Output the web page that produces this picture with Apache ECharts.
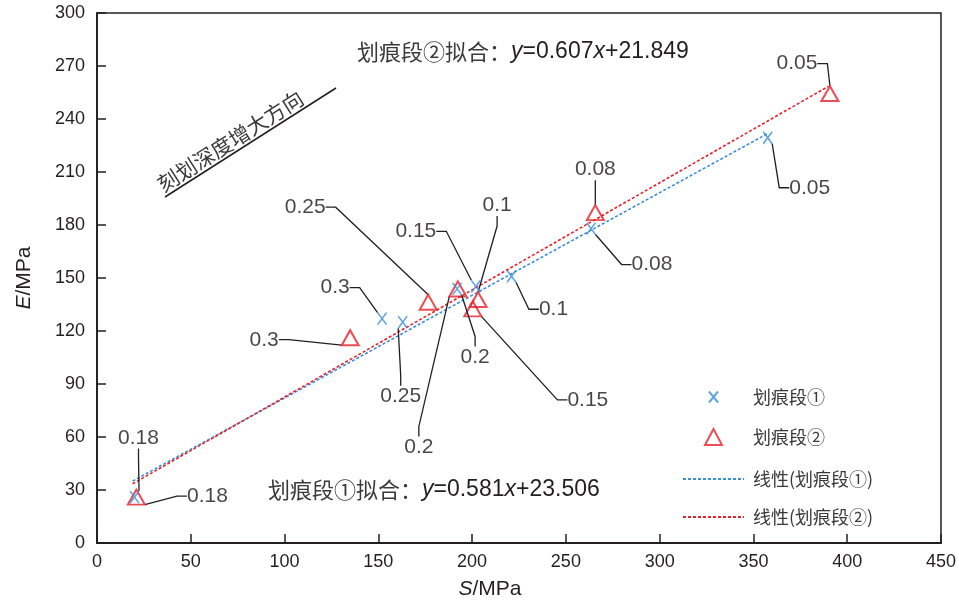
<!DOCTYPE html>
<html>
<head>
<meta charset="utf-8">
<script src="https://cdn.jsdelivr.net/npm/echarts@6/dist/echarts.min.js"></script>
<style>
	html, body { margin: 0; padding: 0; background: #ffffff; }
	#chart { width: 959px; height: 605px; }
</style>
</head>
<body>
<div id="chart"></div>
<script>
//Values (S, E in MPa; depth labels as printed)
let seg1_s = [20, 152, 163, 192, 202, 221, 263.4, 357.6];
let seg1_e = [26, 127, 125, 143.8, 145.3, 151, 178, 229.4];
let seg1_depth = ["0.18", "0.3", "0.25", "0.2", "0.15", "0.1", "0.08", "0.05"];

let seg2_s = [21, 135, 176.6, 192.4, 200.4, 203.2, 265.7, 390.8];
let seg2_e = [26, 116.2, 136.3, 143.8, 132.5, 137.8, 187, 254.4];
let seg2_depth = ["0.18", "0.3", "0.25", "0.2", "0.15", "0.1", "0.08", "0.05"];

//Trend line end points as drawn
let fit1_s = [19, 358];
let fit1_e = [35, 232];
let fit2_s = [19, 390];
let fit2_e = [33.5, 258.5];

let series_names = ["划痕段①", "划痕段②", "线性(划痕段①)", "线性(划痕段②)"];
let fit1_text = ["划痕段①拟合：", "y", "=0.581", "x", "+23.506"];
let fit2_text = ["划痕段②拟合：", "y", "=0.607", "x", "+21.849"];
let direction_text = "刻划深度增大方向";

//Label shifts (px) from each point to its callout
let seg1_label_shift = [[4, -59], [-47, -31], [-2, 74], [18, 68], [-60, -55], [42, 33], [61, 36], [42, 50]];
let seg2_label_shift = [[71, -1], [-86, 2], [-123, -95], [-39, 158], [115, 91], [19, -94], [0, -43], [-33, -30]];

let ink = "#231f20";
let blue = "#3a8fd8";
let red = "#e8202a";
let latin = "Liberation Sans";
let cjk = "'Noto Sans CJK SC'";

function zipPoints (arg0_xs, arg1_ys, arg2_labels) {
	let return_array = [];
	for (let i = 0; i < arg0_xs.length; i++)
		return_array.push(arg2_labels ? [arg0_xs[i], arg1_ys[i], arg2_labels[i]] : [arg0_xs[i], arg1_ys[i]]);
	return return_array;
}

function richEquation (arg0_parts) {
	return "{c|" + arg0_parts[0] + "}{i|" + arg0_parts[1] + "}{n|" + arg0_parts[2] + "}{i|" + arg0_parts[3] + "}{n|" + arg0_parts[4] + "}";
}

let equation_rich = {
	c: { fontFamily: cjk, fontSize: 22, fill: "#3a3a3a" },
	i: { fontFamily: latin, fontSize: 23, fontStyle: "italic", fill: ink },
	n: { fontFamily: latin, fontSize: 23, fill: ink }
};

let point_label = {
	show: true,
	position: "inside",
	color: "#1a1718",
	textBorderWidth: 0,
	fontFamily: latin,
	fontSize: 21,
	formatter: (params) => params.value[2]
};
let point_label_line = {
	show: true,
	length2: 10,
	lineStyle: { color: ink, width: 1.3 }
};

let chart = echarts.init(document.getElementById("chart"), null, { renderer: "canvas" });

chart.setOption({
	animation: false,
	backgroundColor: "#ffffff",
	grid: {
		left: 97, right: 18, top: 13, bottom: 60,
		show: true,
		borderColor: ink,
		borderWidth: 1.5
	},
	xAxis: {
		type: "value",
		min: 0, max: 450, interval: 50,
		name: "{i|S}/MPa",
		nameLocation: "middle",
		nameGap: 36,
		nameTextStyle: {
			fontFamily: latin, fontSize: 21, color: ink,
			padding: [0, 58, 0, 0],
			rich: { i: { fontFamily: latin, fontSize: 21, fontStyle: "italic", color: ink } }
		},
		axisLine: { lineStyle: { color: ink, width: 1.8 } },
		axisTick: { inside: true, length: 9, lineStyle: { color: ink, width: 1.5 } },
		axisLabel: { fontFamily: latin, fontSize: 18, color: ink, margin: 10 },
		splitLine: { show: false }
	},
	yAxis: {
		type: "value",
		min: 0, max: 300, interval: 30,
		name: "{i|E}/MPa",
		nameLocation: "middle",
		nameGap: 62,
		nameTextStyle: {
			fontFamily: latin, fontSize: 21, color: ink,
			rich: { i: { fontFamily: latin, fontSize: 21, fontStyle: "italic", color: ink } }
		},
		axisLine: { lineStyle: { color: ink, width: 1.8 } },
		axisTick: { inside: true, length: 9, lineStyle: { color: ink, width: 1.5 } },
		axisLabel: { fontFamily: latin, fontSize: 18, color: ink, margin: 12 },
		splitLine: { show: false }
	},
	legend: [
		{
			data: [
				{ name: series_names[0], icon: "path://M0,0M17,16M4,2.5L13,13.5M13,2.5L4,13.5" },
				{ name: series_names[1] }
			],
			orient: "vertical",
			left: 699, top: 383,
			itemWidth: 17, itemHeight: 16, itemGap: 22,
			selectedMode: false,
			textStyle: { fontFamily: cjk, fontSize: 18, color: "#3a3a3a", lineHeight: 18, padding: [0, 0, 0, 26] }
		},
		{
			data: [series_names[2], series_names[3]],
			orient: "vertical",
			left: 677, top: 465,
			itemWidth: 61, itemHeight: 10, itemGap: 20,
			selectedMode: false,
			itemStyle: { opacity: 0 },
			textStyle: { fontFamily: cjk, fontSize: 18, color: "#3a3a3a", lineHeight: 18, padding: [0, 0, 0, 4] }
		}
	],
	series: [
		{
			name: series_names[2],
			type: "line",
			data: zipPoints(fit1_s, fit1_e),
			symbol: "none",
			z: 2,
			lineStyle: { color: blue, width: 1.6, type: [3, 2] },
			itemStyle: { color: blue }
		},
		{
			name: series_names[3],
			type: "line",
			data: zipPoints(fit2_s, fit2_e),
			symbol: "none",
			z: 2,
			lineStyle: { color: red, width: 1.6, type: [3, 2] },
			itemStyle: { color: red }
		},
		{
			name: series_names[0],
			type: "scatter",
			data: zipPoints(seg1_s, seg1_e, seg1_depth),
			symbol: "path://M0,0L8,12M8,0L0,12",
			symbolSize: [9, 12],
			z: 4,
			itemStyle: { color: "rgba(0,0,0,0)", borderColor: blue, borderWidth: 1.6 },
			label: point_label,
			labelLine: point_label_line,
			labelLayout: (params) => ({
				dx: seg1_label_shift[params.dataIndex][0],
				dy: seg1_label_shift[params.dataIndex][1]
			})
		},
		{
			name: series_names[1],
			type: "scatter",
			data: zipPoints(seg2_s, seg2_e, seg2_depth),
			symbol: "triangle",
			symbolSize: [17, 15],
			z: 3,
			itemStyle: { color: "rgba(0,0,0,0)", borderColor: red, borderWidth: 2 },
			label: point_label,
			labelLine: point_label_line,
			labelLayout: (params) => ({
				dx: seg2_label_shift[params.dataIndex][0],
				dy: seg2_label_shift[params.dataIndex][1]
			})
		}
	],
	graphic: [
		{
			type: "text",
			left: 357, top: 40,
			style: { text: richEquation(fit2_text), rich: equation_rich }
		},
		{
			type: "text",
			left: 268, top: 478,
			style: { text: richEquation(fit1_text), rich: equation_rich }
		},
		{
			type: "text",
			x: 236, y: 150,
			rotation: 0.567,
			style: {
				text: direction_text,
				fontFamily: cjk, fontSize: 21, fill: "#3a3a3a",
				align: "center", verticalAlign: "bottom"
			}
		},
		{
			type: "line",
			shape: { x1: 165, y1: 197, x2: 336, y2: 88 },
			style: { stroke: ink, lineWidth: 1.5 }
		}
	]
});
</script>
</body>
</html>
